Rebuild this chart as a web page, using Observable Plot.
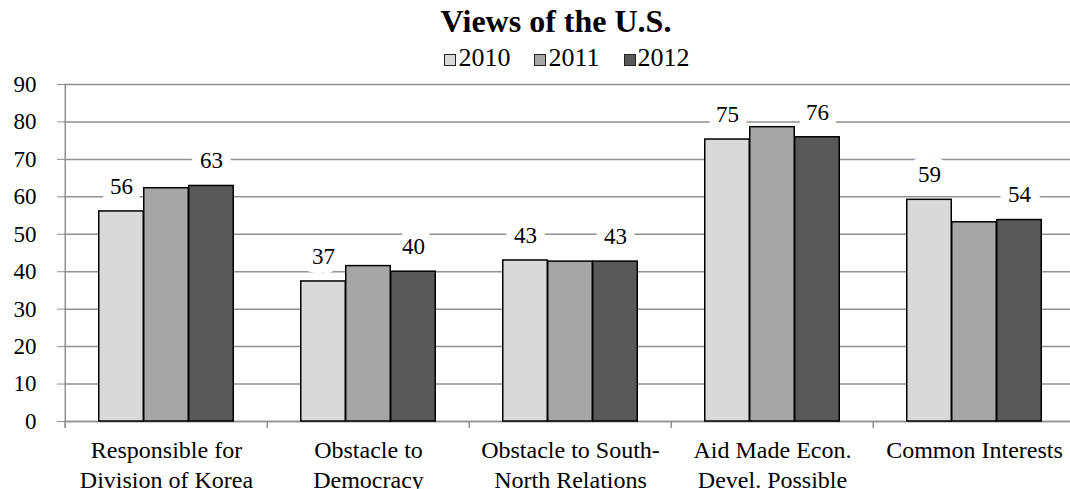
<!DOCTYPE html>
<html>
<head>
<meta charset="utf-8">
<script src="https://cdn.jsdelivr.net/npm/d3@7"></script>
<script src="https://cdn.jsdelivr.net/npm/@observablehq/plot@0.6"></script>
<style>
  html, body { margin: 0; padding: 0; background: white; }
  #wrap { width: 1070px; font-family: "Liberation Serif", "Times New Roman", serif; color: black; }
  #header { position: relative; width: 1070px; height: 70px; }
  #title { position: absolute; left: 0; top: 5px; width: 1070px; text-align: center; font-size: 32px; line-height: 1; font-weight: bold; transform: translateX(21px); }
  #legend { position: absolute; left: 0; top: 45px; width: 1070px; text-align: center; font-size: 26px; line-height: 1; transform: translateX(32px); white-space: nowrap; }
  .item { display: inline-block; margin: 0 12px; }
  .sw { display: inline-block; width: 10px; height: 10px; border: 1.5px solid #222; margin-right: 2px; vertical-align: 0px; }
  svg { display: block; }
  #chart svg, #chart svg text { font-family: "Liberation Serif", "Times New Roman", serif; }
</style>
</head>
<body>
<div id="wrap">
  <div id="header">
    <div id="title"></div>
    <div id="legend"></div>
  </div>
  <div id="chart"></div>
</div>
<script>
const titleText = "Views of the U.S.";
const categories = [
  "Responsible for\nDivision of Korea",
  "Obstacle to\nDemocracy",
  "Obstacle to South-\nNorth Relations",
  "Aid Made Econ.\nDevel. Possible",
  "Common Interests"
];
const years = ["2010", "2011", "2012"];
const values2010 = [56.1, 37.4, 43.0, 75.3, 59.2];
const values2011 = [62.3, 41.5, 42.7, 78.6, 53.2];
const values2012 = [62.9, 40.0, 42.7, 75.9, 53.8];
const labelledYears = ["2010", "2012"];
const yTicks = [0, 10, 20, 30, 40, 50, 60, 70, 80, 90];
const colors = ["#d9d9d9", "#a6a6a6", "#595959"];

const series = [values2010, values2011, values2012];
const rows = years.map((yr, i) => categories.map((c, j) => ({cat: c, year: yr, value: series[i][j]})));

document.getElementById("title").textContent = titleText;
const legend = document.getElementById("legend");
years.forEach((yr, i) => {
  const item = document.createElement("span");
  item.className = "item";
  const sw = document.createElement("span");
  sw.className = "sw";
  sw.style.background = colors[i];
  item.appendChild(sw);
  item.appendChild(document.createTextNode(yr));
  legend.appendChild(item);
});

const W = 1070, H = 419;
const mL = 64, mR = -6.5;
const step = (W - mL - mR) / categories.length;
const barW = 45;
const inset = (step - barW) / 2;
const gray = "#919191";
const serif = "Liberation Serif";
const offsets = [-barW, 0, barW];

const marks = [
  Plot.gridY(yTicks, {stroke: gray, strokeOpacity: 1, strokeWidth: 1.5}),
  Plot.axisY(yTicks, {tickSize: 7, tickPadding: 21, stroke: gray, fill: "black", fontSize: 23, fontFamily: serif, label: null}),
  Plot.ruleY([0], {stroke: gray, strokeWidth: 1.5}),
  Plot.ruleX(categories.slice(0, 1), {x: d => d, y1: -1.87, y2: 90, dx: -step / 2, stroke: gray, strokeWidth: 1.5}),
  Plot.ruleX(categories, {x: d => d, y1: -1.87, y2: 0, dx: -step / 2, stroke: gray, strokeWidth: 1.5}),
];
years.forEach((yr, i) => {
  if (labelledYears.includes(yr)) {
    marks.push(Plot.text(rows[i], {
      x: "cat", y: "value", text: d => String(Math.round(d.value)),
      dx: offsets[i], dy: -25, fontSize: 23, fontFamily: serif, fill: "black",
      stroke: "white", strokeWidth: 18, paintOrder: "stroke"
    }));
  }
});
years.forEach((yr, i) => {
  marks.push(Plot.barY(rows[i], {
    x: "cat", y: "value", fill: colors[i], stroke: "black", strokeWidth: 1.5,
    insetLeft: inset, insetRight: inset, dx: offsets[i]
  }));
});
marks.push(Plot.text(categories, {
  x: d => d, frameAnchor: "bottom", lineAnchor: "top", dy: 15,
  lineHeight: 1.25, fontSize: 24, fontFamily: serif, fill: "black", text: d => d
}));

const chart = Plot.plot({
  width: W, height: H,
  marginLeft: mL, marginRight: mR, marginTop: 14, marginBottom: 68,
  style: "font-family: 'Liberation Serif', serif; font-size: 23px; color: black; background: white; overflow: visible;",
  x: {domain: categories, padding: 0, axis: null},
  y: {domain: [0, 90], axis: null},
  marks
});
document.getElementById("chart").appendChild(chart);
</script>
</body>
</html>
